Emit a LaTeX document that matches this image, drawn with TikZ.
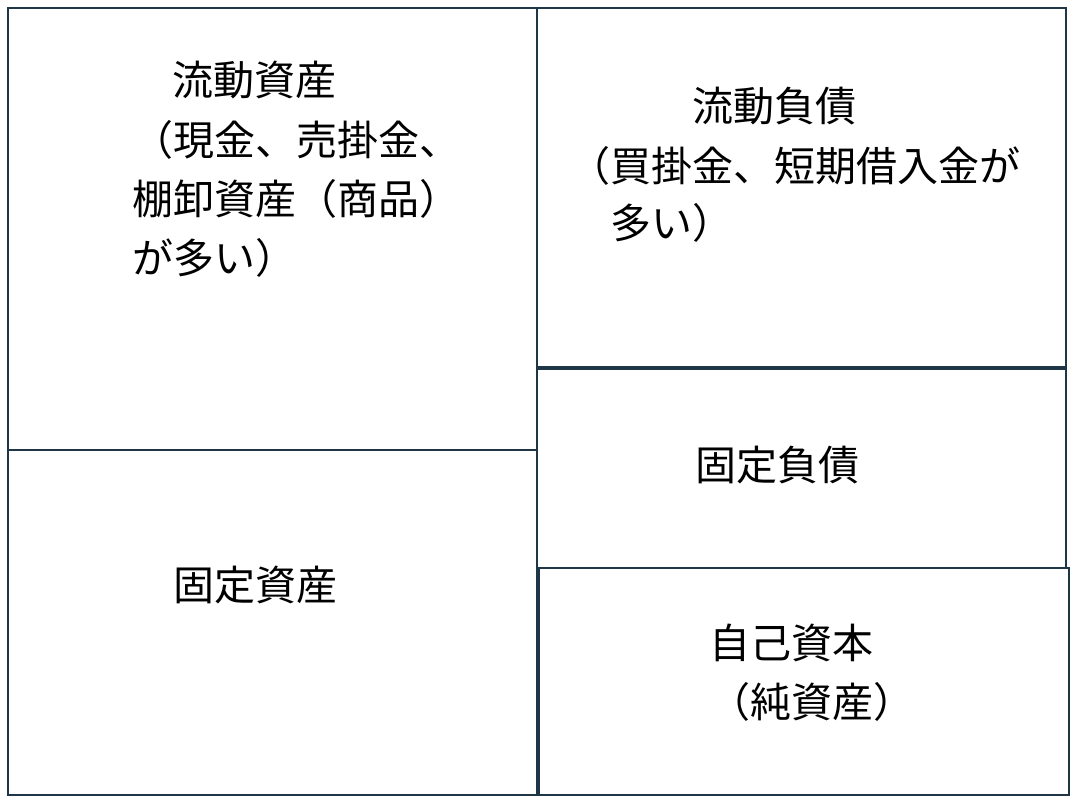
\documentclass[tikz,border=0pt]{standalone}
\usepackage{fontspec}
\setmainfont{Noto Sans CJK JP}
\definecolor{boxline}{HTML}{1F3646}
\begin{document}
\begin{tikzpicture}[x=1pt,y=-1pt,
  box/.style={draw=boxline, line width=2pt, inner sep=0pt, outer sep=0pt, anchor=north west},
  txt/.style={font=\fontsize{41}{58}\selectfont, inner sep=0pt, anchor=west, text=black}]
\useasboundingbox (0,0) rectangle (1078,805);
% boxes
\node[box, minimum width=529pt, minimum height=442pt] (ca) at (8,8) {};
\node[box, minimum width=529pt, minimum height=345pt] (fa) at (8,450) {};
\node[box, minimum width=529pt, minimum height=359pt] (cl) at (537,8) {};
\node[box, minimum width=529pt, minimum height=199pt] (fl) at (537,369) {};
\node[box, minimum width=530pt, minimum height=227pt] (eq) at (539,568) {};
% current assets
\node[txt] (ca1) at (172,80) {流動資産};
\node[txt] (ca2) at (132,140) {（現金、売掛金、};
\node[txt] (ca3) at (132,199) {棚卸資産（商品）};
\node[txt] (ca4) at (132,258) {が多い）};
% fixed assets
\node[txt] (fa1) at (173,585) {固定資産};
% current liabilities
\node[txt] (cl1) at (692,106) {流動負債};
\node[txt] (cl2) at (569,166) {（買掛金、短期借入金が};
\node[txt] (cl3) at (610,223) {多い）};
% fixed liabilities
\node[txt] (fl1) at (695,465) {固定負債};
% equity
\node[txt] (eq1) at (709,643) {自己資本};
\node[txt] (eq2) at (709,702) {（純資産）};
\end{tikzpicture}
\end{document}
